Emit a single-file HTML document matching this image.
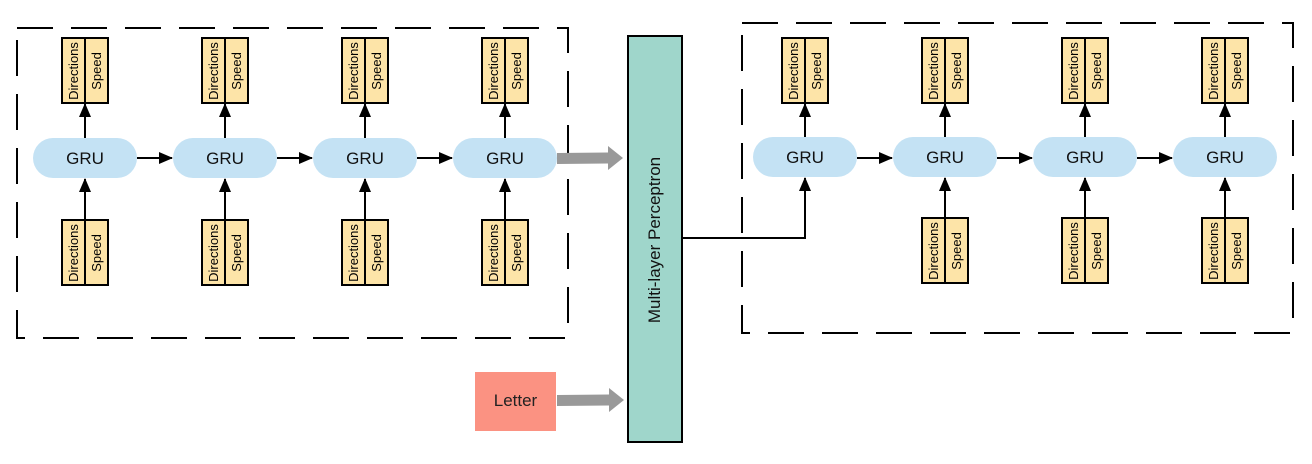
<!DOCTYPE html>
<html><head><meta charset="utf-8"><style>
html,body{margin:0;padding:0;background:#fff;}
svg{display:block;font-family:"Liberation Sans",Arial,sans-serif;}
</style></head><body>
<svg width="1312" height="464" viewBox="0 0 1312 464" xmlns="http://www.w3.org/2000/svg">
<defs>
<marker id="a" markerWidth="14" markerHeight="12" refX="13" refY="6" orient="auto" markerUnits="userSpaceOnUse"><path d="M0,0 L14,6 L0,12 z" fill="#000"/></marker>
<g id="pair">
<rect x="-23" y="0" width="46" height="65" fill="#fde4a8" stroke="#000" stroke-width="2"/>
<line x1="0" y1="0" x2="0" y2="65" stroke="#000" stroke-width="2"/>
<text transform="translate(-7,33) rotate(-90)" text-anchor="middle" font-size="13" fill="#000">Directions</text>
<text transform="translate(16,33) rotate(-90)" text-anchor="middle" font-size="13" fill="#000">Speed</text>
</g>
<g id="gru">
<rect x="-52" y="-20" width="104" height="40" rx="20" fill="#c4e2f4"/>
<text x="0" y="6" text-anchor="middle" font-size="17" fill="#111">GRU</text>
</g>
</defs>
<rect x="17" y="28" width="551" height="310" fill="none" stroke="#000" stroke-width="2" stroke-dasharray="36 18"/>
<rect x="742" y="23" width="551" height="310" fill="none" stroke="#000" stroke-width="2" stroke-dasharray="36 18"/>

<g stroke="#000" stroke-width="2" fill="none">
<line x1="85" y1="138" x2="85" y2="104" marker-end="url(#a)"/>
<line x1="225" y1="138" x2="225" y2="104" marker-end="url(#a)"/>
<line x1="365" y1="138" x2="365" y2="104" marker-end="url(#a)"/>
<line x1="505" y1="138" x2="505" y2="104" marker-end="url(#a)"/>
<line x1="85" y1="220" x2="85" y2="179" marker-end="url(#a)"/>
<line x1="225" y1="220" x2="225" y2="179" marker-end="url(#a)"/>
<line x1="365" y1="220" x2="365" y2="179" marker-end="url(#a)"/>
<line x1="505" y1="220" x2="505" y2="179" marker-end="url(#a)"/>
<line x1="137" y1="158" x2="172" y2="158" marker-end="url(#a)"/>
<line x1="277" y1="158" x2="312" y2="158" marker-end="url(#a)"/>
<line x1="417" y1="158" x2="452" y2="158" marker-end="url(#a)"/>
</g>
<use href="#pair" x="85" y="38"/><use href="#pair" x="225" y="38"/><use href="#pair" x="365" y="38"/><use href="#pair" x="505" y="38"/>
<use href="#pair" x="85" y="220"/><use href="#pair" x="225" y="220"/><use href="#pair" x="365" y="220"/><use href="#pair" x="505" y="220"/>
<use href="#gru" x="85" y="158"/><use href="#gru" x="225" y="158"/><use href="#gru" x="365" y="158"/><use href="#gru" x="505" y="158"/>

<g stroke="#000" stroke-width="2" fill="none">
<line x1="805" y1="137" x2="805" y2="104" marker-end="url(#a)"/>
<line x1="945" y1="137" x2="945" y2="104" marker-end="url(#a)"/>
<line x1="1085" y1="137" x2="1085" y2="104" marker-end="url(#a)"/>
<line x1="1225" y1="137" x2="1225" y2="104" marker-end="url(#a)"/>
<polyline points="682,238 805,238 805,178" marker-end="url(#a)"/>
<line x1="945" y1="218" x2="945" y2="178" marker-end="url(#a)"/>
<line x1="1085" y1="218" x2="1085" y2="178" marker-end="url(#a)"/>
<line x1="1225" y1="218" x2="1225" y2="178" marker-end="url(#a)"/>
<line x1="857" y1="158" x2="892" y2="158" marker-end="url(#a)"/>
<line x1="997" y1="158" x2="1032" y2="158" marker-end="url(#a)"/>
<line x1="1137" y1="158" x2="1172" y2="158" marker-end="url(#a)"/>
</g>
<use href="#pair" x="805" y="38"/><use href="#pair" x="945" y="38"/><use href="#pair" x="1085" y="38"/><use href="#pair" x="1225" y="38"/>
<use href="#pair" x="945" y="218"/><use href="#pair" x="1085" y="218"/><use href="#pair" x="1225" y="218"/>
<use href="#gru" x="805" y="157"/><use href="#gru" x="945" y="157"/><use href="#gru" x="1085" y="157"/><use href="#gru" x="1225" y="157"/>

<path d="M557,153 L608,152.5 L608,146 L623,158 L608,170 L608,163.5 L557,164 z" fill="#999"/>
<path d="M557,395 L609,394.5 L609,388 L624,400 L609,412 L609,405.5 L557,406 z" fill="#999"/>

<rect x="628" y="36" width="54" height="406" fill="#9fd6cb" stroke="#000" stroke-width="2"/>
<text transform="translate(660,240) rotate(-90)" text-anchor="middle" font-size="17" fill="#111">Multi-layer Perceptron</text>

<rect x="475" y="372" width="81" height="59" fill="#fb9282"/>
<text x="515.5" y="406" text-anchor="middle" font-size="17" fill="#222">Letter</text>
</svg>
</body></html>
